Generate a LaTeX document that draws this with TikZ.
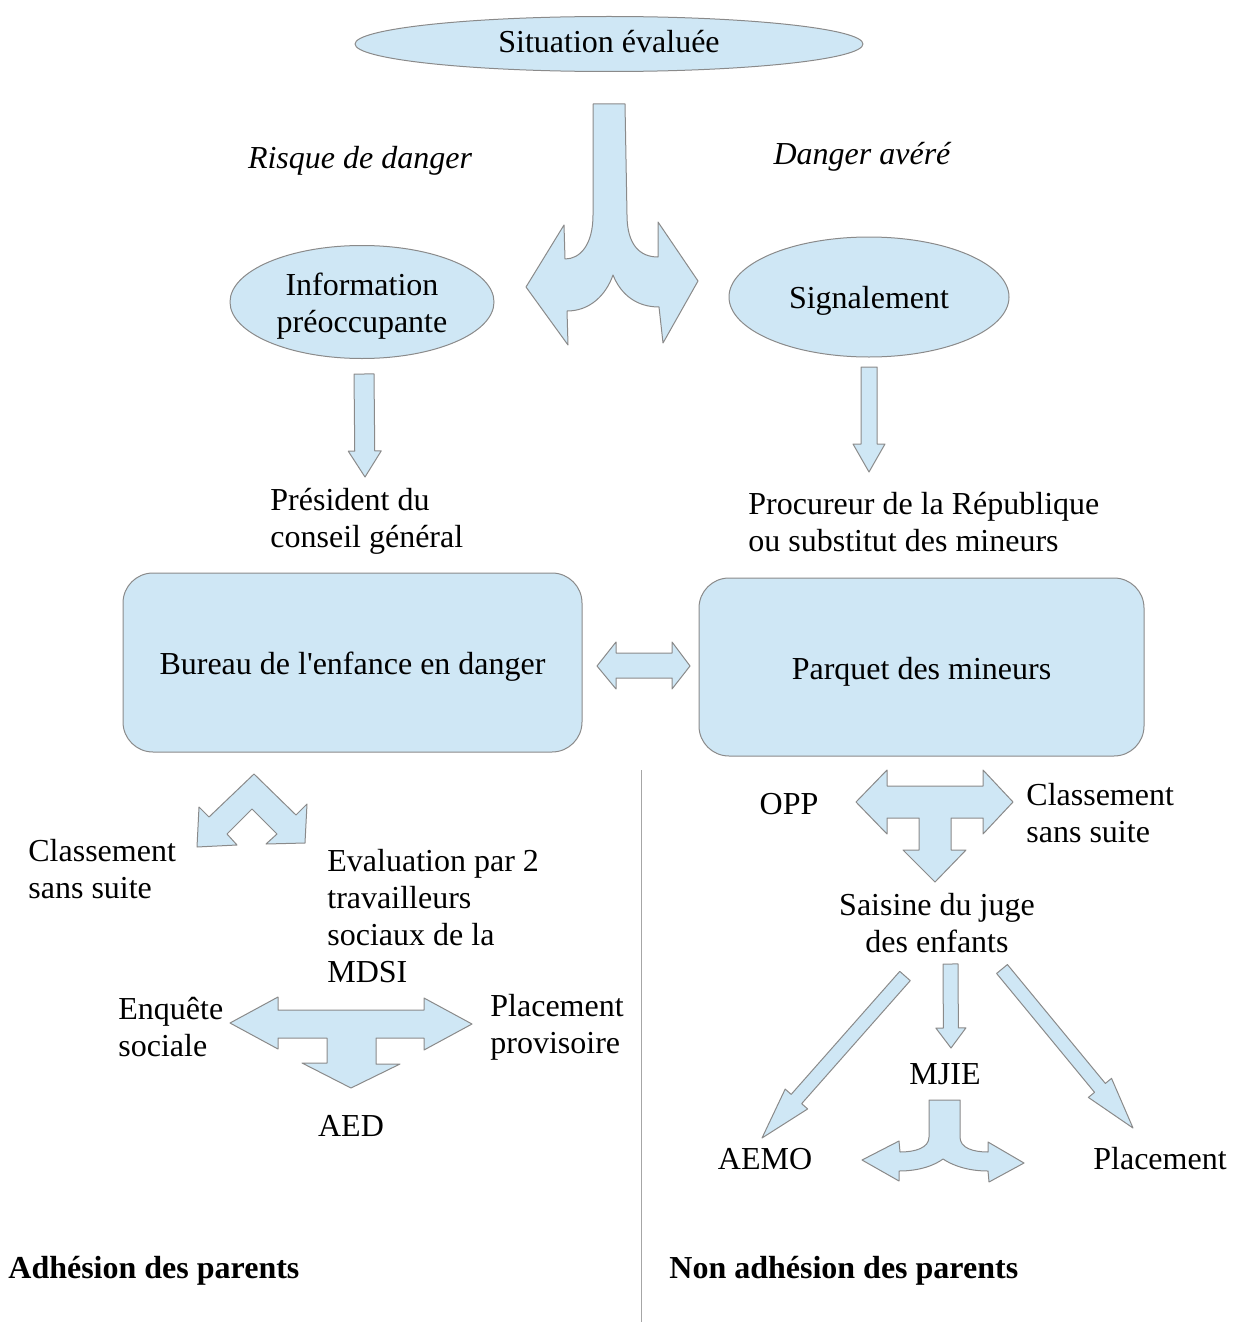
\documentclass[tikz,border=0pt]{standalone}
\usepackage{fontspec}
\setmainfont{Liberation Serif}
\usetikzlibrary{shapes.geometric,calc}
\definecolor{lb}{HTML}{CFE7F5}
\definecolor{edgec}{HTML}{8A8A8A}
\newcommand\barrow[5]{%
  \coordinate (ba-t) at (#1); \coordinate (ba-p) at (#2);
  \coordinate (ba-h) at ($(ba-p)!#5!(ba-t)$);
  \draw[shp] ($(ba-t)!#3!90:(ba-p)$) -- ($(ba-h)!#3!90:(ba-p)$) -- ($(ba-h)!#4!90:(ba-p)$) -- (ba-p)
    -- ($(ba-h)!#4!-90:(ba-p)$) -- ($(ba-h)!#3!-90:(ba-p)$) -- ($(ba-t)!#3!-90:(ba-p)$) -- cycle;}
\begin{document}
\begin{tikzpicture}[x=0.5pt,y=-0.5pt,
  shp/.style={fill=lb,draw=edgec,line width=0.5pt,line join=round},
  txt/.style={font=\fontsize{16}{18.5}\selectfont,inner sep=0pt,align=left},
  ctxt/.style={font=\fontsize{16}{18.5}\selectfont,inner sep=0pt,align=center},
  ell/.style={shp,ellipse,inner sep=0pt},
  rbox/.style={shp,rounded corners=15pt,inner sep=0pt}]
\useasboundingbox (0,0) rectangle (1237,1322);

% ellipses
\node[ell,minimum width=254pt,minimum height=27.5pt] (sit) at (609,44) {};
\node[ctxt] (sitt) at (609,42) {Situation évaluée};
\node[ell,minimum width=132pt,minimum height=56.5pt] (info) at (362,302) {};
\node[ctxt] (infot) at (362,306) {Information\\préoccupante};
\node[ell,minimum width=140pt,minimum height=60pt] (sig) at (869,297) {};
\node[ctxt] (sigt) at (869,301) {Signalement};

% italic labels
\node[txt,font=\fontsize{16}{18.5}\selectfont\itshape] (risk) at (360,161) {Risque de danger};
\node[txt,font=\fontsize{16}{18.5}\selectfont\itshape] (aver) at (862,157) {Danger avéré};

% split arrow top
\draw[shp] (593,104) -- (593,215) .. controls (593,245) and (580,259) .. (565,259) -- (564,225) -- (526,287) -- (568,345) -- (567,311)
  .. controls (590,311) and (606,295) .. (613,275) .. controls (621,295) and (637,307) .. (659,307) -- (663,343) -- (698,281) -- (658,222) -- (658,257)
  .. controls (640,257) and (627,245) .. (627,215) -- (625,104) -- cycle;

% down arrows
\barrow{364,374}{365,477}{5pt}{8.25pt}{13pt}
\barrow{869,367}{869,472}{4pt}{8pt}{14pt}

\node[txt,anchor=west] (pres) at (270,521) {Président du\\conseil général};
\node[txt,anchor=west] (proc) at (748,522.5) {Procureur de la République\\ou substitut des mineurs};

% boxes
\node[rbox,minimum width=229.5pt,minimum height=89.5pt] (bureau) at (352.5,662.5) {};
\node[ctxt] (bureaut) at (352.5,667) {Bureau de l\textquotesingle enfance en danger};
\node[rbox,minimum width=222.5pt,minimum height=89pt] (parquet) at (921.5,667) {};
\node[ctxt] (parquett) at (921.5,672) {Parquet des mineurs};

% double arrow
\draw[shp] (597,666) -- (616,642) -- (616,653) -- (672,653) -- (672,642) -- (690,666) -- (672,689) -- (672,678) -- (616,678) -- (616,689) -- cycle;

% separator
\coordinate (sepA) at (641,770);
\coordinate (sepB) at (641,1322);
\draw[gray!70,line width=0.5pt] (sepA) -- (sepB);

% chevron arrow
\draw[shp] (254,774) -- (296,815) -- (307,804) -- (305,843) -- (266,844) -- (277,834) -- (252,809) -- (227,834) -- (237,845) -- (197,847) -- (199,807) -- (209,817) -- cycle;

\node[txt,anchor=west] (cl1) at (28,869.5) {Classement\\sans suite};
\node[txt,anchor=west] (eval) at (327,916) {Evaluation par 2\\travailleurs\\sociaux de la\\MDSI};

% T arrow left
\draw[shp] (230,1023) -- (278,997) -- (278,1010) -- (424,1010) -- (424,998) -- (472,1024) -- (424,1050) -- (424,1038) -- (376,1038) -- (376,1064) -- (400,1064) -- (351,1088) -- (302,1063) -- (327,1063) -- (327,1038) -- (278,1038) -- (278,1049) -- cycle;

\node[txt,anchor=west] (enq) at (118,1027) {Enquête\\sociale};
\node[txt,anchor=west] (plp) at (490,1027.5) {Placement\\provisoire};
\node[ctxt] (aed) at (351,1126) {AED};

% right side
\node[ctxt] (opp) at (789,804) {OPP};
\node[txt,anchor=west] (cl2) at (1026,813) {Classement\\sans suite};

\draw[shp] (856,802) -- (887,770) -- (887,786) -- (983,786) -- (983,770) -- (1013,802) -- (983,834) -- (983,818) -- (951,818) -- (951,850) -- (966,850) -- (935,882) -- (903,850) -- (919,850) -- (919,818) -- (887,818) -- (887,834) -- cycle;

\node[ctxt] (sais) at (937,923.5) {Saisine du juge\\des enfants};

\barrow{905,976}{762,1138}{3.5pt}{7.5pt}{26pt}
\barrow{950.5,964}{951,1048}{3.75pt}{7.5pt}{10pt}
\barrow{1002,969}{1133,1128}{3.5pt}{7.5pt}{26pt}

\node[ctxt] (mjie) at (945,1074) {MJIE};
\node[ctxt] (aemo) at (765,1159) {AEMO};
\node[ctxt] (plac) at (1160,1159) {Placement};

% small split arrow
\draw[shp] (929,1100) -- (929,1137) .. controls (929,1148) and (915,1152) .. (900,1152) -- (899,1141) -- (862,1160) -- (899,1181) -- (899,1171)
  .. controls (920,1171) and (935,1165) .. (943,1159) .. controls (952,1165) and (967,1171) .. (988,1171) -- (989,1182) -- (1024,1163) -- (988,1142) -- (988,1152)
  .. controls (973,1152) and (960,1148) .. (960,1137) -- (960,1100) -- cycle;

\node[txt,anchor=west,font=\fontsize{16}{18.5}\selectfont\bfseries] (adh) at (8,1271) {Adhésion des parents};
\node[txt,anchor=west,font=\fontsize{16}{18.5}\selectfont\bfseries] (nadh) at (669,1271) {Non adhésion des parents};
\end{tikzpicture}
\end{document}
